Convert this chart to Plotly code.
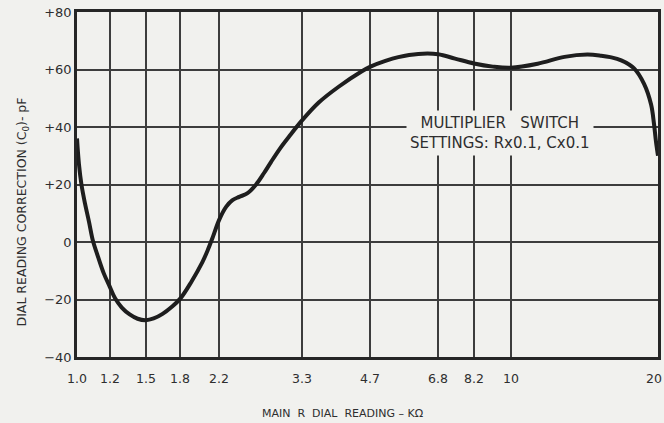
import numpy as np
import plotly.graph_objects as go

# Dial graduations (kΩ) and their spacing along the printed dial scale
DIAL_KOHM = [1.0, 1.2, 1.5, 1.8, 2.2, 3.3, 4.7, 6.8, 8.2, 10, 20]
DIAL_LABELS = ["1.0", "1.2", "1.5", "1.8", "2.2", "3.3", "4.7", "6.8", "8.2", "10", "20"]
DIAL_SCALE = [0, 33, 69, 104, 143, 226, 295, 363, 399, 436, 584]

# Correction curve: main R dial reading (kΩ) vs. dial correction C0 (pF)
READING_KOHM = [1.000, 1.011, 1.025, 1.045, 1.069, 1.092, 1.123, 1.161, 1.200,
                1.240, 1.293, 1.358, 1.427, 1.500, 1.564, 1.639, 1.718, 1.800,
                1.905, 2.016, 2.068, 2.122, 2.200, 2.277, 2.344, 2.426, 2.523,
                2.636, 2.741, 2.836, 2.964, 3.097, 3.300, 3.600, 3.989, 4.487,
                4.700, 5.099, 5.472, 6.100, 6.800, 7.428, 8.200, 9.079, 10.00,
                11.35, 12.88, 14.34, 15.31, 15.97, 16.82, 17.87, 18.73, 19.36,
                19.63, 19.81, 20.00]
CORRECTION_PF = [36, 27, 20, 13.5, 7, 0.5, -5, -11, -15.6,
                 -19.6, -22.8, -25.2, -26.7, -27.2, -26.6, -25.0, -22.6, -19.6,
                 -13.8, -7, -3.2, 1.2, 7.8, 12.3, 14.5, 15.7, 16.9,
                 20, 24, 27.8, 32.5, 36.6, 42.2, 48.5, 54, 59.3,
                 61, 63, 64.3, 65.4, 65.3, 63.8, 62.1, 61, 60.6,
                 62, 64.4, 65.2, 64.8, 64.3, 63.2, 60.4, 55, 47.8,
                 41, 35, 30]

Y_TICKS = [-40, -20, 0, 20, 40, 60, 80]
Y_LABELS = ["−40", "−20", "0", "+20", "+40", "+60", "+80"]

PAPER = "#f1f1ee"
INK = "#2e2e2e"
GRID = "#3d3d3d"
FONT = "DejaVu Sans"


def dial_position(kohm):
    """Place a resistance value on the non-uniform dial scale."""
    return np.interp(np.log(kohm), np.log(DIAL_KOHM), DIAL_SCALE)


fig = go.Figure()
fig.add_trace(go.Scatter(
    x=dial_position(np.array(READING_KOHM)),
    y=CORRECTION_PF,
    mode="lines",
    line=dict(color="#1e1e1e", width=4, shape="spline", smoothing=1.0),
    hoverinfo="skip",
    showlegend=False,
))

fig.update_layout(
    width=664, height=423,
    margin=dict(l=77, r=3, t=12, b=66),
    paper_bgcolor=PAPER, plot_bgcolor=PAPER,
    font=dict(family=FONT, color=INK, size=13),
    xaxis=dict(
        range=[DIAL_SCALE[0], DIAL_SCALE[-1]],
        tickvals=DIAL_SCALE, showticklabels=False, ticks="",
        showgrid=True, gridcolor=GRID, gridwidth=1.5,
        zeroline=False, showline=True, mirror=True,
        linecolor="#262626", linewidth=2.5, fixedrange=True,
    ),
    yaxis=dict(
        range=[-40, 80], tickvals=Y_TICKS, ticktext=Y_LABELS, ticks="",
        tickfont=dict(size=13, color=INK),
        showgrid=True, gridcolor=GRID, gridwidth=1.5,
        zeroline=False, showline=True, mirror=True,
        linecolor="#262626", linewidth=2.5, fixedrange=True,
    ),
)

# Dial graduation labels under the chart
for pos, lab in zip(DIAL_SCALE, DIAL_LABELS):
    fig.add_annotation(
        x=pos, xref="x", y=-0.061, yref="paper", text=lab, showarrow=False,
        font=dict(size=12.5, color=INK), xanchor="center", yanchor="middle",
        xshift=-4 if lab == "20" else 0,
    )

# Axis titles
fig.add_annotation(
    x=0.457, xref="paper", y=-0.164, yref="paper",
    text="MAIN  R  DIAL  READING – KΩ", showarrow=False,
    font=dict(size=11, color=INK), xanchor="center", yanchor="middle",
)
fig.add_annotation(
    x=-0.094, xref="paper", y=0.42, yref="paper",
    text="DIAL READING CORRECTION (C<sub>0</sub>)- pF", showarrow=False,
    textangle=-90, font=dict(size=12.5, color=INK),
    xanchor="center", yanchor="middle",
)

# Switch-setting note, lettered over the grid
fig.add_annotation(
    x=0.728, xref="paper", y=0.649, yref="paper",
    text="MULTIPLIER   SWITCH<br>SETTINGS: Rx0.1, Cx0.1", showarrow=False,
    font=dict(size=15, color=INK), align="center",
    bgcolor=PAPER, borderpad=3, xanchor="center", yanchor="middle",
)

fig.write_html("out.html")
